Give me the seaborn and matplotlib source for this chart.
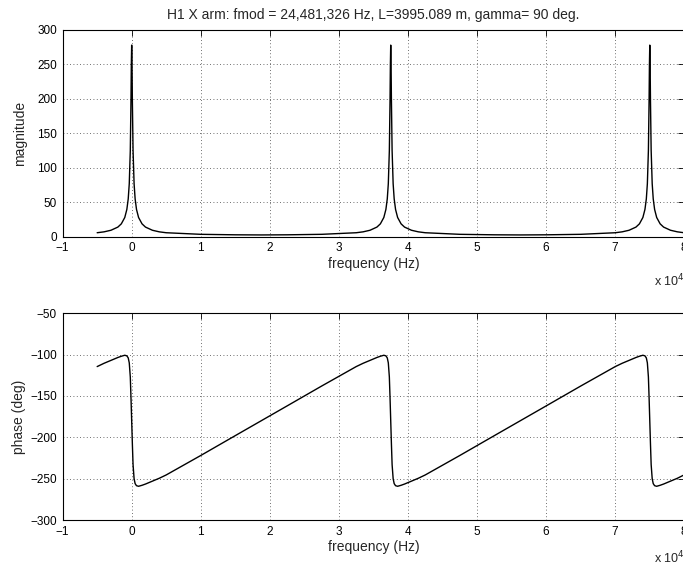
import matplotlib
matplotlib.use("Agg")
import matplotlib.pyplot as plt
import seaborn as sns
import pandas as pd

# ---- data (frequency in Hz) ----
freq_hz = [
    -5000, -4000, -3000, -2000, -1500, -1000, -700, -500, -350, -200, -100, -50, 0,
    50, 100, 200, 350, 500, 700, 1000, 1500, 2000, 3000, 4000, 5000,
    10000, 15000, 18760, 22520, 27520,
    32520, 33520, 34520, 35520, 36020, 36520, 36820, 37020, 37170, 37320, 37420, 37470, 37520,
    37570, 37620, 37720, 37870, 38020, 38220, 38520, 39020, 39520, 40520, 41520, 42520,
    47520, 52520, 56280, 60040, 65040,
    70040, 71040, 72040, 73040, 73540, 74040, 74340, 74540, 74690, 74840, 74940, 74990, 75040,
    75090, 75140, 75240, 75390, 75540, 75740, 76040, 76540, 77040, 78040, 79040, 80000,
]

magnitude = [
    5.8, 7.1, 9.4, 14.0, 18.7, 27.9, 39.6, 54.9, 76.9, 125, 198, 250, 278,
    250, 198, 125, 76.9, 54.9, 39.6, 27.9, 18.7, 14.0, 9.4, 7.1, 5.8,
    3.5, 2.8, 2.6, 2.8, 3.5,
    5.8, 7.1, 9.4, 14.0, 18.7, 27.9, 39.6, 54.9, 76.9, 125, 198, 250, 278,
    250, 198, 125, 76.9, 54.9, 39.6, 27.9, 18.7, 14.0, 9.4, 7.1, 5.8,
    3.5, 2.8, 2.6, 2.8, 3.5,
    5.8, 7.1, 9.4, 14.0, 18.7, 27.9, 39.6, 54.9, 76.9, 125, 198, 250, 278,
    250, 198, 125, 76.9, 54.9, 39.6, 27.9, 18.7, 14.0, 9.4, 7.1, 5.8,
]

phase_deg = [
    -114.5, -110.5, -107, -103.5, -102, -100.8, -101.5, -104, -110, -127, -152, -166, -180,
    -194, -208, -233, -250, -256, -258.5, -259.2, -258, -256.5, -253, -249.5, -245.5,
    -222, -198, -180, -162, -138,
    -114.5, -110.5, -107, -103.5, -102, -100.8, -101.5, -104, -110, -127, -152, -166, -180,
    -194, -208, -233, -250, -256, -258.5, -259.2, -258, -256.5, -253, -249.5, -245.5,
    -222, -198, -180, -162, -138,
    -114.5, -110.5, -107, -103.5, -102, -100.8, -101.5, -104, -110, -127, -152, -166, -180,
    -194, -208, -233, -250, -256, -258.5, -259.2, -258, -256.5, -253, -249.5, -245.5,
]

x_ticks = [-10000, 0, 10000, 20000, 30000, 40000, 50000, 60000, 70000, 80000]
x_tick_labels = ["\u22121", "0", "1", "2", "3", "4", "5", "6", "7", "8"]
mag_ticks = [0, 50, 100, 150, 200, 250, 300]
phase_ticks = [-300, -250, -200, -150, -100, -50]
phase_tick_labels = ["\u2212300", "\u2212250", "\u2212200", "\u2212150", "\u2212100", "\u221250"]

title = "H1 X arm: fmod = 24,481,326 Hz, L=3995.089 m, gamma= 90 deg."

df = pd.DataFrame({"freq": freq_hz, "mag": magnitude, "phase": phase_deg})

sns.set_style("white")
plt.rcParams["font.family"] = ["Liberation Sans", "DejaVu Sans"]
plt.rcParams["axes.unicode_minus"] = True

fig = plt.figure(figsize=(6.83, 5.65), dpi=100)
ax1 = fig.add_axes([0.0917, 0.581, 0.9098, 0.366])
ax2 = fig.add_axes([0.0917, 0.0796, 0.9098, 0.366])

sns.lineplot(data=df, x="freq", y="mag", ax=ax1, color="black", lw=1.0,
             estimator=None, sort=False)
sns.lineplot(data=df, x="freq", y="phase", ax=ax2, color="black", lw=1.0,
             estimator=None, sort=False)

for ax in (ax1, ax2):
    ax.set_xlim(-10000, 80000)
    ax.set_xticks(x_ticks)
    ax.set_xticklabels(x_tick_labels)
    ax.grid(True, linestyle=(0, (1, 3)), color="0.25", lw=0.6)
    ax.tick_params(direction="in", length=4, width=0.6, top=True, right=True,
                   labelsize=8.5, pad=4, colors="black")
    for s in ax.spines.values():
        s.set_visible(True)
        s.set_color("black")
        s.set_linewidth(0.8)
    ax.set_xlabel("frequency (Hz)", fontsize=10, labelpad=2)

ax1.set_ylim(0, 300)
ax1.set_yticks(mag_ticks)
ax1.set_ylabel("magnitude", fontsize=10, labelpad=7)
ax1.set_title(title, fontsize=10, pad=8)

ax2.set_ylim(-300, -50)
ax2.set_yticks(phase_ticks)
ax2.set_yticklabels(phase_tick_labels)
ax2.set_ylabel("phase (deg)", fontsize=10, labelpad=3)

fig.text(654 / 683, 1 - 286 / 565, r"x 10$^{4}$", fontsize=9, ha="left", va="baseline")
fig.text(654 / 683, 1 - 563 / 565, r"x 10$^{4}$", fontsize=9, ha="left", va="baseline")

fig.savefig("out.png", dpi=100)
